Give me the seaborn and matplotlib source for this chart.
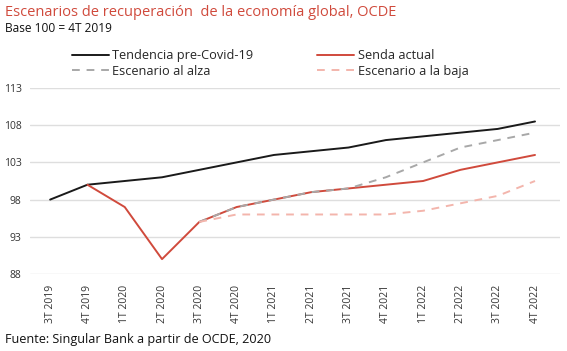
import numpy as np
import pandas as pd
import matplotlib.pyplot as plt
import seaborn as sns

# Datos (base 100 = 4T 2019)
trimestres = ['3T 2019', '4T 2019', '1T 2020', '2T 2020', '3T 2020', '4T 2020', '1T 2021',
              '2T 2021', '3T 2021', '4T 2021', '1T 2022', '2T 2022', '3T 2022', '4T 2022']
tendencia = [98, 100, 100.5, 101, 102, 103, 104, 104.5, 105, 106, 106.5, 107, 107.5, 108.5]
senda = [np.nan, 100, 97, 90, 95, 97, 98, 99, 99.5, 100, 100.5, 102, 103, 104]
alza = [np.nan, np.nan, np.nan, np.nan, 95, 97, 98, 99, 99.5, 101, 103, 105, 106, 107]
baja = [np.nan, np.nan, np.nan, np.nan, 95, 96, 96, 96, 96, 96, 96.5, 97.5, 98.5, 100.5]

ROJO = '#d04a3c'
FUENTE = 'Open Sans'

sns.set_style('white')
plt.rcParams['font.family'] = [FUENTE, 'DejaVu Sans']

df = pd.DataFrame({'pos': np.arange(len(trimestres)), 'tendencia': tendencia,
                   'senda': senda, 'alza': alza, 'baja': baja})

fig = plt.figure(figsize=(5.67, 3.51), dpi=100)
ax = fig.add_axes([30 / 567, 1 - 274 / 351, 530 / 567, 186 / 351])

sns.lineplot(data=df, x='pos', y='tendencia', ax=ax, color='#1a1a1a', lw=1.4,
             label='Tendencia pre-Covid-19')
sns.lineplot(data=df, x='pos', y='senda', ax=ax, color=ROJO, lw=1.4, label='Senda actual')
sns.lineplot(data=df, x='pos', y='alza', ax=ax, color='#a8a8a8', lw=1.4,
             label='Escenario al alza')
sns.lineplot(data=df, x='pos', y='baja', ax=ax, color='#f3b5ac', lw=1.4,
             label='Escenario a la baja')
# escenarios en discontinua
for ln in ax.lines[2:]:
    ln.set_dashes((4, 3.5))

ax.set_ylim(88, 113)
ax.set_xlim(-0.54, 13.67)
ax.set_yticks([88, 93, 98, 103, 108, 113])
ax.set_xticks(df['pos'])
ax.set_xticklabels(trimestres, rotation=90, fontsize=7.5, color='#333333')
ax.tick_params(axis='y', labelsize=7.5, labelcolor='#333333', length=0, pad=6)
ax.tick_params(axis='x', length=0, pad=8)
ax.grid(axis='y', color='#dedede', lw=1)
ax.grid(axis='x', visible=False)
ax.set_xlabel('')
ax.set_ylabel('')
for s in ax.spines.values():
    s.set_visible(False)

h, l = ax.get_legend_handles_labels()
ax.get_legend().remove()
orden = [0, 2, 1, 3]
fig.legend([h[i] for i in orden], [l[i] for i in orden], loc='upper left',
           bbox_to_anchor=(72 / 567, 1 - 49 / 351), ncol=2, frameon=False,
           fontsize=9.2, handlelength=2.9, handletextpad=0.25, columnspacing=5.0,
           labelspacing=0.22, borderpad=0, borderaxespad=0)

fig.text(5 / 567, 1 - 12 / 351, 'Escenarios de recuperación  de la economía global, OCDE',
         color=ROJO, fontsize=10.5, va='center', ha='left')
fig.text(5 / 567, 1 - 29 / 351, 'Base 100 = 4T 2019', color='#111111', fontsize=8.6,
         va='center', ha='left')
fig.text(5 / 567, 1 - 340 / 351, 'Fuente: Singular Bank a partir de OCDE, 2020',
         color='#111111', fontsize=9.1, va='center', ha='left')

fig.savefig('out.png', dpi=100, facecolor='white')
